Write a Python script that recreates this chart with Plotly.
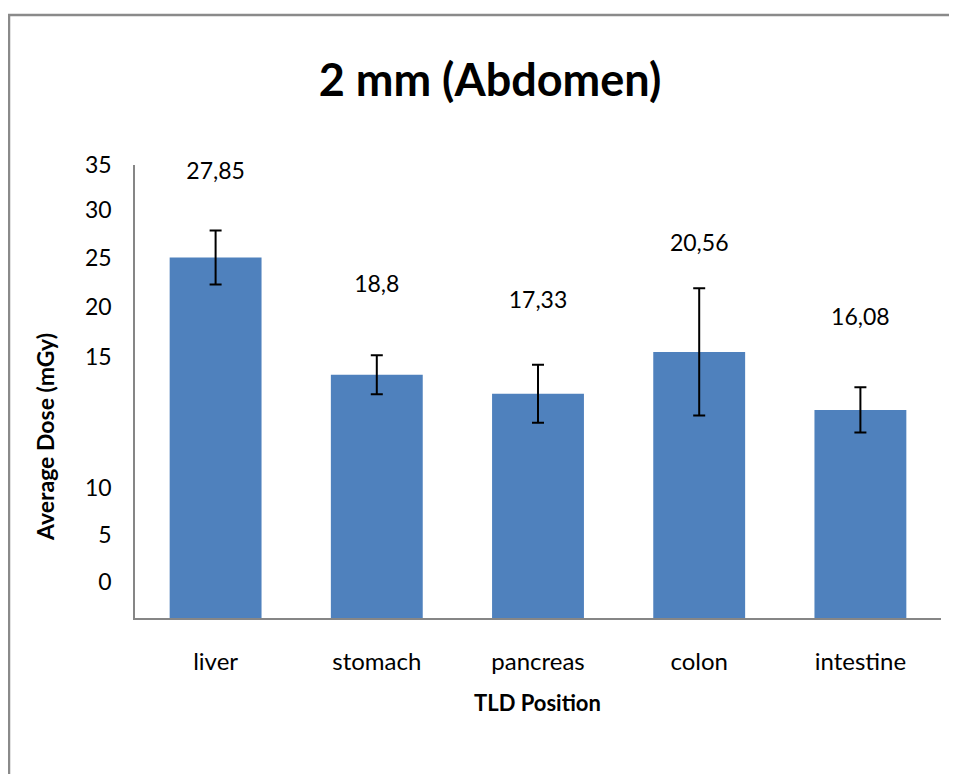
import plotly.graph_objects as go

# Data
categories = ["liver", "stomach", "pancreas", "colon", "intestine"]
avg_dose = [27.85, 18.8, 17.33, 20.56, 16.08]
dose_err = [2.09, 1.51, 2.24, 4.92, 1.74]
value_labels = ["27,85", "18,8", "17,33", "20,56", "16,08"]
# heights (in mGy units) where the value labels sit in the original
label_heights = [34.4, 25.6, 24.4, 28.8, 23.1]

# the original's y tick labels are not on the data scale; keep their look
tick_labels = ["35", "30", "25", "20", "15", "10", "5", "0"]
tick_heights = [35.0, 31.55, 27.84, 24.05, 20.19, 10.05, 6.42, 2.78]

FONT = "Lato"
AXIS_GREY = "#868686"

# page has an 8px body margin, so the figure is drawn 8px in from the corner
W, H = 949, 766
L, T, R, B = 127, 157, 16, 156
PW, PH = W - L - R, H - T - B


def px_x(x):
    return (x - L) / PW


def px_y(y):
    return (H - B - y) / PH


fig = go.Figure()

fig.add_trace(go.Bar(
    x=categories,
    y=avg_dose,
    width=0.57,
    marker=dict(color="#4F81BD", line=dict(width=0)),
    error_y=dict(type="data", array=dose_err, visible=True,
                 color="black", thickness=2, width=6),
    hoverinfo="x+y",
))

fig.add_trace(go.Scatter(
    x=categories,
    y=label_heights,
    mode="text",
    text=value_labels,
    textposition="middle center",
    textfont=dict(family=FONT, size=23, color="black"),
    hoverinfo="skip",
    cliponaxis=False,
))

fig.update_layout(
    width=W,
    height=H,
    margin=dict(l=L, r=R, t=T, b=B, pad=0),
    paper_bgcolor="white",
    plot_bgcolor="white",
    showlegend=False,
    font=dict(family=FONT, size=23, color="black"),
    title=dict(
        text="<b>2 mm (Abdomen)</b>",
        font=dict(family=FONT, size=45, color="black"),
        xref="container", yref="container",
        x=(490 - 8) / W, y=1 - (80 - 8) / H,
        xanchor="center", yanchor="middle",
    ),
    annotations=[
        dict(text="<b>TLD Position</b>", xref="paper", yref="paper",
             x=px_x(537 - 8), y=px_y(702 - 8), xanchor="center", yanchor="middle",
             showarrow=False, font=dict(family=FONT, size=22, color="black")),
        dict(text="<b>Average Dose (mGy)</b>", xref="paper", yref="paper",
             x=px_x(45 - 8), y=px_y(437 - 8), textangle=-90,
             xanchor="center", yanchor="middle",
             showarrow=False, font=dict(family=FONT, size=23, color="black")),
    ],
    shapes=[
        dict(type="rect", xref="paper", yref="paper",
             x0=px_x(1), x1=1.2, y0=-0.5, y1=px_y(7),
             line=dict(color="#8a8a8a", width=2.5), layer="below"),
    ],
)

fig.update_xaxes(
    showline=True, linecolor=AXIS_GREY, linewidth=1.5,
    showgrid=False, ticks="", ticklabelstandoff=21,
    tickfont=dict(family=FONT, size=24, color="black"),
)

fig.update_yaxes(
    range=[0, 35],
    showline=True, linecolor=AXIS_GREY, linewidth=1.5,
    showgrid=False, zeroline=False, ticks="",
    tickmode="array", tickvals=tick_heights, ticktext=tick_labels,
    ticklabelstandoff=17,
    tickfont=dict(family=FONT, size=23, color="black"),
)

fig.write_html("out.html")
